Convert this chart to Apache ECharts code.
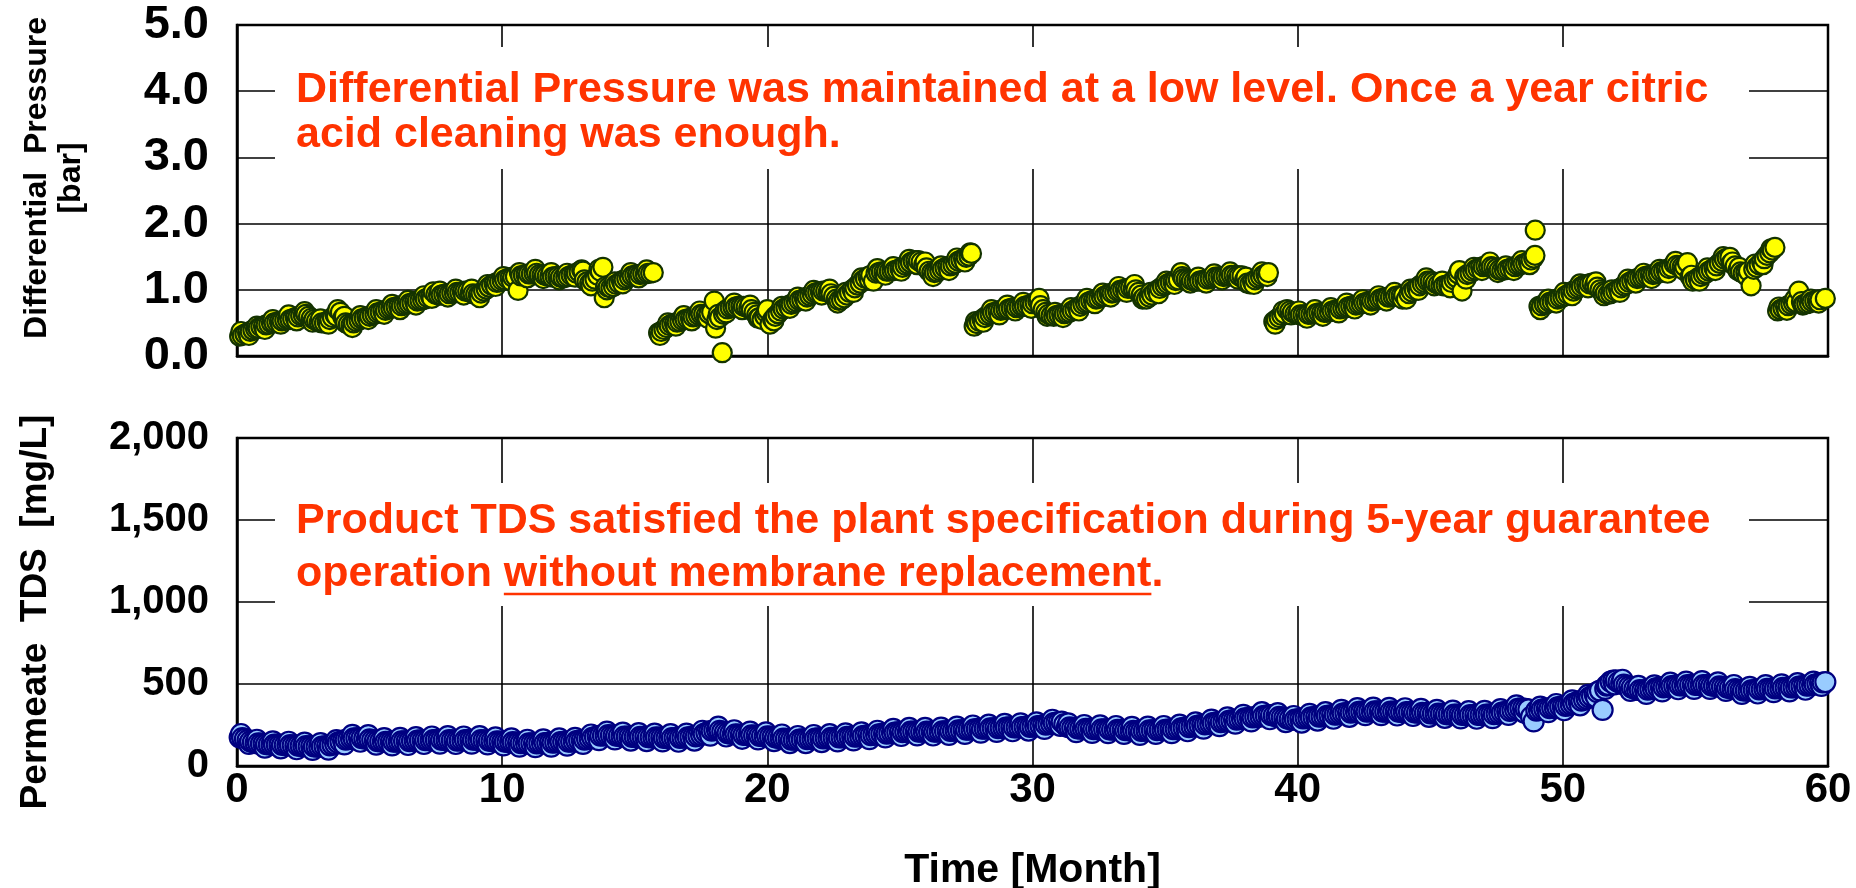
<!DOCTYPE html>
<html><head><meta charset="utf-8">
<script src="https://cdn.jsdelivr.net/npm/echarts@6/dist/echarts.min.js"></script>
<style>html,body{margin:0;padding:0;background:#fff;overflow:hidden}#c{width:1856px;height:888px}</style>
</head><body><div id="c"></div>
<script>
// ---- data ----
const xRange = [0, 60];
const xStep = 10;
const dpRange = [0, 5];
const dpStep = 1;
const tdsRange = [0, 2000];
const tdsStep = 500;

// Differential pressure [bar] vs time [month] - main trace readings
const dpData = [
[0.1,.30],[0.2,.31],[0.3,.33],[0.4,.35],[0.5,.37],[0.6,.39],[0.7,.41],[0.8,.42],[0.9,.44],[1.0,.45],
[1.1,.47],[1.2,.48],[1.3,.50],[1.4,.50],[1.5,.51],[1.6,.52],[1.7,.53],[1.8,.54],[1.9,.55],[2.0,.55],
[2.1,.56],[2.2,.58],[2.3,.59],[2.4,.61],[2.5,.62],[2.6,.63],[2.7,.60],[2.8,.57],[2.9,.55],[3.0,.53],
[3.1,.51],[3.2,.50],[3.3,.50],[3.4,.52],[3.5,.55],[3.6,.58],[3.7,.62],[3.8,.70],[3.9,.66],[4.0,.58],
[4.1,.50],[4.2,.48],[4.3,.47],[4.4,.50],[4.5,.52],[4.6,.54],[4.7,.56],[4.8,.57],[4.9,.59],[5.0,.60],
[5.1,.62],[5.2,.63],[5.3,.65],[5.4,.66],[5.5,.68],[5.6,.69],[5.7,.71],[5.8,.72],[5.9,.73],[6.0,.74],
[6.1,.75],[6.2,.76],[6.3,.77],[6.4,.78],[6.5,.79],[6.6,.80],[6.7,.82],[6.8,.83],[6.9,.84],[7.0,.85],
[7.1,.86],[7.2,.88],[7.3,.90],[7.4,.97],[7.5,.93],[7.6,.92],[7.7,.92],[7.8,.93],[7.9,.94],[8.0,.94],
[8.1,.95],[8.2,.95],[8.3,.96],[8.4,.96],[8.5,.97],[8.6,.98],[8.7,.98],[8.8,.96],[8.9,.94],[9.0,.93],
[9.1,.92],[9.2,.95],[9.3,.98],[9.4,1.01],[9.5,1.04],[9.6,1.07],[9.7,1.09],[9.8,1.11],[9.9,1.12],[10.0,1.14],
[10.1,1.15],[10.2,1.17],[10.3,1.18],[10.4,1.19],[10.5,1.20],[10.6,.99],[10.7,1.21],[10.8,1.22],[10.9,1.23],[11.0,1.24],
[11.1,1.24],[11.2,1.25],[11.3,1.25],[11.4,1.23],[11.5,1.22],[11.6,1.22],[11.7,1.21],[11.8,1.20],[11.9,1.19],[12.0,1.20],
[12.1,1.20],[12.2,1.19],[12.3,1.18],[12.4,1.19],[12.5,1.20],[12.6,1.22],[12.7,1.23],[12.8,1.25],[12.9,1.27],[13.0,1.30],
[13.1,1.15],[13.2,1.12],[13.3,1.10],[13.4,1.13],[13.5,1.16],[13.6,1.22],[13.7,1.28],[13.8,1.34],[13.85,.88],[13.9,1.05],
[14.0,1.04],[14.1,1.03],[14.2,1.05],[14.3,1.08],[14.4,1.10],[14.5,1.13],[14.6,1.15],[14.7,1.17],[14.8,1.19],[14.9,1.21],
[15.0,1.22],[15.1,1.23],[15.2,1.23],[15.3,1.24],[15.4,1.24],[15.5,1.25],[15.6,1.25],[15.7,1.26],
[15.9,.35],[16.0,.37],[16.1,.40],[16.2,.43],[16.3,.46],[16.4,.48],[16.5,.49],[16.6,.51],[16.7,.52],[16.8,.54],
[16.9,.55],[17.0,.56],[17.1,.57],[17.2,.59],[17.3,.60],[17.4,.62],[17.5,.63],[17.6,.63],[17.7,.62],[17.8,.64],
[17.9,.66],[18.0,.83],[18.05,.42],[18.1,.55],[18.2,.58],[18.3,.05],[18.35,.63],[18.4,.68],[18.5,.71],[18.6,.73],
[18.7,.74],[18.8,.74],[18.9,.75],[19.0,.75],[19.1,.75],[19.2,.74],[19.3,.72],[19.4,.70],[19.5,.66],[19.6,.62],
[19.7,.58],[19.8,.55],[19.9,.60],[20.0,.70],[20.1,.48],[20.2,.55],[20.3,.60],[20.4,.64],[20.5,.68],[20.6,.71],
[20.7,.73],[20.8,.76],[20.9,.78],[21.0,.80],[21.1,.82],[21.2,.84],[21.3,.85],[21.4,.87],[21.5,.89],[21.6,.91],
[21.7,.93],[21.8,.95],[21.9,.96],[22.0,.97],[22.1,.98],[22.2,.98],[22.3,.97],[22.4,.94],[22.5,.90],[22.6,.86],
[22.7,.84],[22.8,.85],[22.9,.88],[23.0,.92],[23.1,.96],[23.2,1.00],[23.3,1.03],[23.4,1.07],[23.5,1.10],[23.6,1.14],
[23.7,1.17],[23.8,1.20],[23.9,1.22],[24.0,1.13],[24.1,1.25],[24.2,1.26],[24.3,1.27],[24.4,1.27],[24.5,1.28],[24.6,1.28],
[24.7,1.29],[24.8,1.29],[24.9,1.30],[25.0,1.32],[25.1,1.34],[25.2,1.37],[25.3,1.39],[25.4,1.41],[25.5,1.43],[25.6,1.44],
[25.7,1.44],[25.8,1.42],[25.9,1.38],[26.0,1.33],[26.1,1.28],[26.2,1.26],[26.3,1.26],[26.4,1.27],[26.5,1.29],[26.6,1.31],
[26.7,1.33],[26.8,1.35],[26.9,1.36],[27.0,1.38],[27.1,1.40],[27.2,1.43],[27.3,1.45],[27.4,1.47],[27.5,1.49],[27.6,1.51],[27.7,1.55],
[27.8,.45],[27.9,.49],[28.0,.52],[28.1,.55],[28.2,.58],[28.3,.61],[28.4,.63],[28.5,.65],[28.6,.66],[28.7,.68],
[28.8,.69],[28.9,.70],[29.0,.71],[29.1,.71],[29.2,.72],[29.3,.73],[29.4,.73],[29.5,.74],[29.6,.75],[29.7,.75],
[29.8,.76],[29.9,.77],[30.0,.79],[30.1,.81],[30.2,.83],[30.3,.76],[30.4,.70],[30.5,.66],[30.6,.63],[30.7,.61],
[30.8,.60],[30.9,.61],[31.0,.62],[31.1,.63],[31.2,.64],[31.3,.65],[31.4,.66],[31.5,.68],[31.6,.70],[31.7,.73],
[31.8,.75],[31.9,.78],[32.0,.80],[32.1,.81],[32.2,.83],[32.3,.84],[32.4,.86],[32.5,.87],[32.6,.89],[32.7,.90],
[32.8,.92],[32.9,.94],[33.0,.95],[33.1,.96],[33.2,.98],[33.3,.99],[33.4,1.00],[33.5,1.01],[33.6,1.02],[33.7,1.03],
[33.8,1.02],[33.9,1.00],[34.0,.96],[34.1,.92],[34.2,.88],[34.3,.86],[34.4,.89],[34.5,.92],[34.6,.96],[34.7,.99],
[34.8,1.02],[34.9,1.05],[35.0,1.07],[35.1,1.09],[35.2,1.11],[35.3,1.12],[35.4,1.14],[35.5,1.15],[35.6,1.26],[35.7,1.17],
[35.8,1.16],[35.9,1.15],[36.0,1.14],[36.1,1.13],[36.2,1.13],[36.3,1.13],[36.4,1.14],[36.5,1.15],[36.6,1.16],[36.7,1.17],
[36.8,1.18],[36.9,1.19],[37.0,1.19],[37.1,1.20],[37.2,1.20],[37.3,1.21],[37.4,1.21],[37.5,1.22],[37.6,1.22],[37.7,1.21],
[37.8,1.21],[37.9,1.21],[38.0,1.15],[38.1,1.10],[38.2,1.09],[38.3,1.12],[38.4,1.15],[38.5,1.18],[38.6,1.20],[38.7,1.22],[38.8,1.24],[38.9,1.26],
[39.1,.52],[39.2,.55],[39.3,.58],[39.4,.61],[39.5,.64],[39.6,.70],[39.7,.68],[39.8,.66],[39.9,.64],[40.0,.63],
[40.1,.62],[40.2,.62],[40.3,.62],[40.4,.63],[40.5,.63],[40.6,.64],[40.7,.64],[40.8,.65],[40.9,.65],[41.0,.66],
[41.1,.66],[41.2,.67],[41.3,.68],[41.4,.69],[41.5,.70],[41.6,.71],[41.7,.72],[41.8,.73],[41.9,.74],[42.0,.75],
[42.1,.76],[42.2,.77],[42.3,.78],[42.4,.79],[42.5,.80],[42.6,.81],[42.7,.82],[42.8,.83],[42.9,.84],[43.0,.85],
[43.1,.86],[43.2,.87],[43.3,.88],[43.4,.89],[43.5,.89],[43.6,.90],[43.7,.90],[43.8,.91],[43.9,.91],[44.0,.92],
[44.1,.86],[44.2,.94],[44.3,.97],[44.4,1.00],[44.5,1.03],[44.6,1.06],[44.7,1.09],[44.8,1.11],[44.9,1.13],[45.0,1.13],
[45.1,1.12],[45.2,1.10],[45.3,1.08],[45.4,1.07],[45.5,1.06],[45.6,1.07],[45.7,1.08],[45.8,1.11],[45.9,1.15],[46.0,1.18],
[46.1,1.29],[46.2,.98],[46.3,1.20],[46.4,1.23],[46.5,1.25],[46.6,1.28],[46.7,1.30],[46.8,1.32],[46.9,1.34],[47.0,1.35],
[47.1,1.36],[47.2,1.36],[47.3,1.35],[47.4,1.34],[47.5,1.32],[47.6,1.30],[47.7,1.29],[47.8,1.30],[47.9,1.31],[48.0,1.32],
[48.1,1.34],[48.2,1.35],[48.3,1.37],[48.4,1.38],[48.5,1.39],[48.6,1.40],[48.7,1.42],[48.8,1.45],[48.9,1.48],[48.95,1.52],[48.96,1.90],
[49.1,.75],[49.2,.76],[49.3,.78],[49.4,.79],[49.5,.81],[49.6,.82],[49.7,.84],[49.8,.86],[49.9,.88],[50.0,.89],
[50.1,.91],[50.2,.93],[50.3,.96],[50.4,.98],[50.5,1.01],[50.6,1.03],[50.7,1.05],[50.8,1.07],[50.9,1.08],[51.0,1.09],
[51.1,1.10],[51.2,1.07],[51.3,1.04],[51.4,1.00],[51.5,.97],[51.6,.95],[51.7,.93],[51.8,.94],[51.9,.96],[52.0,.98],
[52.1,1.01],[52.2,1.03],[52.3,1.06],[52.4,1.08],[52.5,1.11],[52.6,1.13],[52.7,1.15],[52.8,1.17],[52.9,1.18],[53.0,1.19],
[53.1,1.20],[53.2,1.21],[53.3,1.22],[53.4,1.23],[53.5,1.24],[53.6,1.25],[53.7,1.27],[53.8,1.28],[53.9,1.30],[54.0,1.32],
[54.1,1.34],[54.2,1.39],[54.3,1.37],[54.4,1.36],[54.5,1.35],[54.6,1.35],[54.7,1.41],[54.8,1.20],[54.9,1.13],[55.0,1.15],
[55.1,1.18],[55.2,1.20],[55.3,1.23],[55.4,1.25],[55.5,1.28],[55.6,1.30],[55.7,1.33],[55.8,1.36],[55.9,1.40],[56.0,1.43],
[56.1,1.46],[56.2,1.48],[56.3,1.49],[56.4,1.42],[56.5,1.36],[56.6,1.29],[56.7,1.27],[56.8,1.25],[56.9,1.26],[57.0,1.28],
[57.1,1.06],[57.2,1.31],[57.3,1.34],[57.4,1.38],[57.5,1.42],[57.6,1.47],[57.7,1.52],[57.8,1.56],[57.9,1.60],[58.0,1.64],
[58.1,.68],[58.2,.70],[58.3,.72],[58.4,.74],[58.5,.76],[58.6,.78],[58.7,.80],[58.8,.81],[58.9,.98],[59.0,.82],
[59.1,.78],[59.2,.79],[59.3,.80],[59.4,.82],[59.5,.83],[59.6,.84],[59.7,.85],[59.9,.87]
];

// Differential pressure - scattered readings around the main trace
const dpScatter = [
[0.15,.37],[0.45,.31],[0.75,.45],[1.05,.40],[1.35,.55],[1.65,.48],[1.95,.62],[2.25,.53],[2.55,.67],[2.85,.51],
[3.15,.56],[3.45,.48],[3.75,.60],[4.05,.60],[4.35,.43],[4.65,.61],[4.95,.55],[5.25,.70],[5.55,.63],[5.85,.78],
[6.15,.70],[6.45,.84],[6.75,.77],[7.05,.91],[7.35,.87],[7.65,.98],[7.95,.89],[8.25,1.01],[8.55,.92],[8.85,1.01],
[9.15,.88],[9.45,1.08],[9.75,1.05],[10.05,1.20],[10.35,1.13],[10.65,1.26],[10.95,1.18],[11.25,1.31],[11.55,1.17],[11.85,1.26],
[12.15,1.15],[12.45,1.25],[12.75,1.19],[13.05,1.28],[13.35,1.06],[13.65,1.31],[13.95,1.00],[14.25,1.12],[14.55,1.09],[14.85,1.26],
[15.15,1.18],[15.45,1.30],
[15.95,.31],[16.25,.50],[16.55,.45],[16.85,.61],[17.15,.53],[17.45,.68],[17.75,.57],[18.15,.63],[18.45,.65],[18.75,.80],
[19.05,.70],[19.35,.77],[19.65,.57],[19.95,.66],[20.25,.53],[20.55,.75],[20.85,.72],[21.15,.89],[21.45,.83],[21.75,.99],
[22.05,.92],[22.35,1.01],[22.65,.80],[22.95,.96],[23.25,.96],[23.55,1.18],[23.85,1.15],[24.15,1.32],[24.45,1.22],[24.75,1.35],
[25.05,1.28],[25.35,1.46],[25.65,1.38],[25.95,1.42],[26.25,1.20],[26.55,1.36],[26.85,1.29],[27.15,1.48],[27.45,1.42],[27.65,1.56],
[27.85,.52],[28.15,.51],[28.45,.70],[28.75,.62],[29.05,.77],[29.35,.68],[29.65,.81],[29.95,.72],[30.25,.87],[30.55,.60],
[30.85,.66],[31.15,.58],[31.45,.73],[31.75,.68],[32.05,.87],[32.35,.79],[32.65,.95],[32.95,.89],[33.25,1.05],[33.55,.96],
[33.85,1.08],[34.15,.86],[34.45,.96],[34.75,.94],[35.05,1.13],[35.35,1.08],[35.65,1.20],[35.95,1.10],[36.25,1.19],[36.55,1.10],
[36.85,1.24],[37.15,1.15],[37.45,1.27],[37.75,1.16],[38.05,1.19],[38.35,1.08],[38.65,1.27],[38.85,1.20],
[39.15,.48],[39.45,.68],[39.75,.62],[40.05,.68],[40.35,.57],[40.65,.70],[40.95,.60],[41.25,.73],[41.55,.65],[41.85,.80],
[42.15,.71],[42.45,.85],[42.75,.77],[43.05,.91],[43.35,.83],[43.65,.96],[43.95,.86],[44.25,1.01],[44.55,.99],[44.85,1.18],
[45.15,1.06],[45.45,1.13],[45.75,1.03],[46.05,1.24],[46.35,1.16],[46.65,1.34],[46.95,1.29],[47.25,1.42],[47.55,1.26],[47.85,1.36],
[48.15,1.29],[48.45,1.44],[48.75,1.38],
[49.15,.70],[49.45,.86],[49.75,.80],[50.05,.96],[50.35,.91],[50.65,1.09],[50.95,1.03],[51.25,1.12],[51.55,.91],[51.85,1.00],
[52.15,.96],[52.45,1.16],[52.75,1.10],[53.05,1.25],[53.35,1.17],[53.65,1.31],[53.95,1.25],[54.25,1.43],[54.55,1.30],[54.85,1.22],
[55.15,1.13],[55.45,1.33],[55.75,1.29],[56.05,1.50],[56.35,1.40],[56.65,1.34],[56.95,1.20],[57.25,1.39],[57.55,1.38],[57.85,1.62],
[58.15,.74],[58.45,.69],[58.75,.86],[59.05,.77],[59.35,.86],[59.65,.80]
];

// Permeate TDS [mg/L] vs time [month] - main trace readings
const tdsData = [
[0.1,175],[0.2,170],[0.3,165],[0.4,158],[0.5,150],[0.6,145],[0.7,140],[0.8,138],[0.9,136],[1.0,135],
[1.1,133],[1.2,131],[1.3,130],[1.4,130],[1.5,130],[1.6,130],[1.7,129],[1.8,128],[1.9,128],[2.0,127],
[2.1,126],[2.2,125],[2.3,124],[2.4,123],[2.5,122],[2.6,121],[2.7,120],[2.8,120],[2.9,119],[3.0,118],
[3.1,118],[3.2,119],[3.3,120],[3.4,122],[3.5,126],[3.6,130],[3.7,135],[3.8,142],[3.9,148],[4.0,154],
[4.1,160],[4.2,163],[4.3,166],[4.4,168],[4.5,169],[4.6,170],[4.7,170],[4.8,168],[4.9,165],[5.0,162],
[5.1,158],[5.2,155],[5.3,152],[5.4,150],[5.5,149],[5.6,148],[5.7,148],[5.8,148],[5.9,148],[6.0,149],
[6.1,149],[6.2,150],[6.3,151],[6.4,151],[6.5,152],[6.6,153],[6.7,154],[6.8,155],[6.9,156],[7.0,157],
[7.1,158],[7.2,158],[7.3,158],[7.4,158],[7.5,159],[7.6,159],[7.7,160],[7.8,159],[7.9,159],[8.0,158],
[8.1,157],[8.2,156],[8.3,155],[8.4,156],[8.5,157],[8.6,158],[8.7,159],[8.8,160],[8.9,160],[9.0,160],
[9.1,159],[9.2,158],[9.3,157],[9.4,156],[9.5,155],[9.6,153],[9.7,152],[9.8,150],[9.9,149],[10.0,148],
[10.1,148],[10.2,147],[10.3,146],[10.4,145],[10.5,143],[10.6,142],[10.7,140],[10.8,139],[10.9,139],[11.0,138],
[11.1,138],[11.2,138],[11.3,138],[11.4,139],[11.5,139],[11.6,140],[11.7,141],[11.8,142],[11.9,143],[12.0,144],
[12.1,145],[12.2,146],[12.3,147],[12.4,147],[12.5,148],[12.6,149],[12.7,150],[12.8,152],[12.9,155],[13.0,157],
[13.1,160],[13.2,164],[13.3,168],[13.4,172],[13.5,176],[13.6,181],[13.7,185],[13.8,186],[13.9,187],[14.0,188],
[14.1,187],[14.2,186],[14.3,185],[14.4,183],[14.5,182],[14.6,180],[14.7,179],[14.8,179],[14.9,178],[15.0,178],
[15.1,178],[15.2,178],[15.3,177],[15.4,177],[15.5,176],[15.6,175],[15.7,175],[15.8,174],[15.9,173],[16.0,173],
[16.1,172],[16.2,171],[16.3,171],[16.4,170],[16.5,170],[16.6,171],[16.7,172],[16.8,173],[16.9,174],[17.0,175],
[17.1,176],[17.2,178],[17.3,180],[17.4,185],[17.5,190],[17.6,195],[17.7,202],[17.8,209],[17.9,215],[18.0,218],
[18.1,220],[18.2,215],[18.3,210],[18.4,205],[18.5,201],[18.6,198],[18.7,195],[18.8,193],[18.9,191],[19.0,190],
[19.1,189],[19.2,189],[19.3,188],[19.4,187],[19.5,186],[19.6,185],[19.7,184],[19.8,183],[19.9,182],[20.0,181],
[20.1,179],[20.2,177],[20.3,174],[20.4,172],[20.5,170],[20.6,167],[20.7,165],[20.8,163],[20.9,161],[21.0,160],
[21.1,160],[21.2,161],[21.3,162],[21.4,163],[21.5,164],[21.6,165],[21.7,166],[21.8,167],[21.9,168],[22.0,169],
[22.1,169],[22.2,170],[22.3,171],[22.4,171],[22.5,172],[22.6,173],[22.7,174],[22.8,175],[22.9,176],[23.0,177],
[23.1,178],[23.2,179],[23.3,179],[23.4,180],[23.5,182],[23.6,183],[23.7,185],[23.8,187],[23.9,188],[24.0,190],
[24.1,192],[24.2,193],[24.3,195],[24.4,197],[24.5,198],[24.6,200],[24.7,202],[24.8,203],[24.9,205],[25.0,206],
[25.1,207],[25.2,208],[25.3,209],[25.4,209],[25.5,210],[25.6,210],[25.7,210],[25.8,210],[25.9,209],[26.0,209],
[26.1,208],[26.2,209],[26.3,209],[26.4,210],[26.5,211],[26.6,211],[26.7,212],[26.8,213],[26.9,214],[27.0,215],
[27.1,216],[27.2,217],[27.3,218],[27.4,219],[27.5,221],[27.6,222],[27.7,223],[27.8,224],[27.9,225],[28.0,226],
[28.1,227],[28.2,228],[28.3,229],[28.4,229],[28.5,230],[28.6,231],[28.7,231],[28.8,232],[28.9,233],[29.0,234],
[29.1,235],[29.2,235],[29.3,236],[29.4,236],[29.5,237],[29.6,237],[29.7,238],[29.8,239],[29.9,239],[30.0,240],
[30.1,242],[30.2,243],[30.3,245],[30.4,248],[30.5,252],[30.6,255],[30.7,258],[30.8,262],[30.9,265],[31.0,268],
[31.1,270],[31.2,255],[31.3,240],[31.4,236],[31.5,232],[31.6,231],[31.7,229],[31.8,228],[31.9,227],[32.0,227],
[32.1,226],[32.2,226],[32.3,225],[32.4,225],[32.5,225],[32.6,224],[32.7,224],[32.8,223],[32.9,223],[33.0,222],
[33.1,221],[33.2,221],[33.3,220],[33.4,219],[33.5,218],[33.6,218],[33.7,216],[33.8,214],[33.9,212],[34.0,213],
[34.1,214],[34.2,215],[34.3,216],[34.4,217],[34.5,218],[34.6,219],[34.7,219],[34.8,220],[34.9,221],[35.0,221],
[35.1,222],[35.2,223],[35.3,224],[35.4,225],[35.5,227],[35.6,230],[35.7,232],[35.8,235],[35.9,237],[36.0,240],
[36.1,243],[36.2,245],[36.3,248],[36.4,251],[36.5,253],[36.6,256],[36.7,259],[36.8,261],[36.9,264],[37.0,266],
[37.1,268],[37.2,270],[37.3,273],[37.4,275],[37.5,278],[37.6,280],[37.7,283],[37.8,285],[37.9,287],[38.0,290],
[38.1,292],[38.2,294],[38.3,296],[38.4,298],[38.5,300],[38.6,303],[38.7,305],[38.8,307],[38.9,309],[39.0,310],
[39.1,307],[39.2,303],[39.3,300],[39.4,297],[39.5,293],[39.6,290],[39.7,286],[39.8,282],[39.9,283],[40.0,285],
[40.1,287],[40.2,290],[40.3,292],[40.4,294],[40.5,296],[40.6,298],[40.7,299],[40.8,301],[40.9,302],[41.0,304],
[41.1,306],[41.2,308],[41.3,310],[41.4,313],[41.5,315],[41.6,317],[41.7,320],[41.8,322],[41.9,324],[42.0,326],
[42.1,328],[42.2,329],[42.3,330],[42.4,331],[42.5,332],[42.6,332],[42.7,333],[42.8,333],[42.9,333],[43.0,333],
[43.1,333],[43.2,332],[43.3,332],[43.4,332],[43.5,332],[43.6,332],[43.7,331],[43.8,331],[43.9,330],[44.0,329],
[44.1,329],[44.2,328],[44.3,327],[44.4,327],[44.5,326],[44.6,325],[44.7,324],[44.8,323],[44.9,322],[45.0,321],
[45.1,320],[45.2,319],[45.3,319],[45.4,318],[45.5,317],[45.6,316],[45.7,315],[45.8,314],[45.9,314],[46.0,313],
[46.1,312],[46.2,312],[46.3,311],[46.4,311],[46.5,310],[46.6,310],[46.7,310],[46.8,311],[46.9,311],[47.0,312],
[47.1,313],[47.2,313],[47.3,315],[47.4,316],[47.5,318],[47.6,321],[47.7,325],[47.8,328],[47.9,332],[48.0,336],
[48.1,340],[48.2,344],[48.3,348],[48.4,352],[48.5,350],[48.6,348],[48.7,345],[48.8,300],[48.9,272],[49.0,338],
[49.1,340],[49.2,344],[49.3,347],[49.4,350],[49.5,352],[49.6,354],[49.7,355],[49.8,357],[49.9,360],[50.0,362],
[50.1,366],[50.2,370],[50.3,375],[50.4,380],[50.5,386],[50.6,392],[50.7,398],[50.8,404],[50.9,410],[51.0,418],
[51.1,425],[51.2,438],[51.3,450],[51.4,460],[51.5,342],[51.6,470],[51.7,495],[51.8,515],[51.9,520],[52.0,522],
[52.1,512],[52.2,505],[52.3,497],[52.4,490],[52.5,484],[52.6,478],[52.7,471],[52.8,465],[52.9,463],[53.0,462],
[53.1,462],[53.2,465],[53.3,468],[53.4,470],[53.5,473],[53.6,476],[53.7,478],[53.8,480],[53.9,483],[54.0,485],
[54.1,487],[54.2,488],[54.3,490],[54.4,491],[54.5,491],[54.6,492],[54.7,493],[54.8,493],[54.9,494],[55.0,494],
[55.1,495],[55.2,495],[55.3,494],[55.4,493],[55.5,492],[55.6,491],[55.7,489],[55.8,488],[55.9,485],[56.0,483],
[56.1,480],[56.2,477],[56.3,475],[56.4,472],[56.5,469],[56.6,465],[56.7,462],[56.8,461],[56.9,460],[57.0,460],
[57.1,462],[57.2,463],[57.3,465],[57.4,467],[57.5,468],[57.6,470],[57.7,471],[57.8,471],[57.9,472],[58.0,473],
[58.1,474],[58.2,475],[58.3,476],[58.4,477],[58.5,478],[58.6,479],[58.7,480],[58.8,482],[58.9,484],[59.0,486],
[59.1,488],[59.2,490],[59.3,492],[59.4,494],[59.5,497],[59.6,500],[59.7,505],[59.8,509],[59.9,512]
];

// Permeate TDS - scattered readings around the main trace
const tdsScatter = [
[0.15,195],[0.45,135],[0.75,160],[1.05,112],[1.35,150],[1.65,108],[1.95,148],[2.25,102],[2.55,142],[2.85,98],
[3.15,140],[3.45,100],[3.75,158],[4.05,132],[4.35,190],[4.65,148],[4.95,188],[5.25,130],[5.55,170],[5.85,126],
[6.15,172],[6.45,128],[6.75,176],[7.05,134],[7.35,180],[7.65,136],[7.95,182],[8.25,134],[8.55,180],[8.85,136],
[9.15,182],[9.45,132],[9.75,174],[10.05,126],[10.35,168],[10.65,118],[10.95,160],[11.25,115],[11.55,162],[11.85,118],
[12.15,168],[12.45,124],[12.75,172],[13.05,135],[13.35,192],[13.65,158],[13.95,210],[14.25,162],[14.55,204],[14.85,155],
[15.15,200],[15.45,152],[15.75,198],[16.05,150],[16.35,194],[16.65,148],[16.95,198],[17.25,155],[17.55,215],[17.85,185],
[18.15,240],[18.45,180],[18.75,218],[19.05,166],[19.35,210],[19.65,162],[19.95,205],[20.25,152],[20.55,192],[20.85,140],
[21.15,183],[21.45,140],[21.75,189],[22.05,146],[22.35,194],[22.65,150],[22.95,199],[23.25,156],[23.55,205],[23.85,164],
[24.15,215],[24.45,174],[24.75,226],[25.05,183],[25.35,232],[25.65,187],[25.95,232],[26.25,186],[26.55,234],[26.85,190],
[27.15,240],[27.45,196],[27.75,247],[28.05,203],[28.35,252],[28.65,208],[28.95,257],[29.25,212],[29.55,260],[29.85,216],
[30.15,266],[30.45,226],[30.75,282],[31.05,245],[31.35,260],[31.65,206],[31.95,250],[32.25,202],[32.55,248],[32.85,200],
[33.15,244],[33.45,196],[33.75,238],[34.05,190],[34.35,240],[34.65,196],[34.95,244],[35.25,200],[35.55,252],[35.85,212],
[36.15,266],[36.45,228],[36.75,283],[37.05,243],[37.35,297],[37.65,258],[37.95,312],[38.25,272],[38.65,328],[38.95,285],
[39.25,322],[39.55,268],[39.85,305],[40.15,265],[40.45,318],[40.75,277],[41.05,328],[41.35,288],[41.65,342],[41.95,300],
[42.25,353],[42.55,310],[42.85,356],[43.15,310],[43.45,355],[43.75,308],[44.05,352],[44.35,305],[44.65,348],[44.95,300],
[45.25,342],[45.55,294],[45.85,338],[46.15,290],[46.45,334],[46.75,288],[47.05,336],[47.35,292],[47.65,347],[47.95,312],
[48.25,370],[48.55,326],[49.15,362],[49.45,328],[49.75,378],[50.05,340],[50.35,400],[50.65,370],[50.95,434],[51.25,420],
[51.65,490],[51.95,498],[52.25,526],[52.55,458],[52.85,488],[53.15,440],[53.45,492],[53.75,455],[54.05,508],[54.35,468],
[54.65,515],[54.95,470],[55.25,518],[55.55,470],[55.85,510],[56.15,458],[56.45,494],[56.75,440],[57.05,483],[57.35,442],
[57.65,493],[57.95,450],[58.25,498],[58.55,455],[58.85,505],[59.15,465],[59.45,515],[59.75,488]
];

const dpNoteLines = ['Differential Pressure was maintained at a low level. Once a year citric', 'acid cleaning was enough.'];
const tdsNoteLine1 = 'Product TDS satisfied the plant specification during 5-year guarantee';
const tdsNoteLine2 = ['operation ', 'without membrane replacement', '.'];
const dpTitle = 'Differential  Pressure\n[bar]';
const tdsTitle = 'Permeate  TDS  [mg/L]';
const xTitle = 'Time [Month]';

// ---- chart ----
const byTime = (a, b) => a[0] - b[0];
const dpAll = dpData.concat(dpScatter).sort(byTime);
const tdsAll = tdsData.concat(tdsScatter).sort(byTime);

const FONT = '"Liberation Sans", Arial, Helvetica, sans-serif';
const RED = '#FF3300';
const GL = 237, GR = 28;
const G1T = 25, G1H = 331, G2T = 438, G2H = 328;
const noteFont = 'bold 43px ' + FONT;
const noteX = 296;

const mctx = document.createElement('canvas').getContext('2d');
mctx.font = noteFont;
const wA = mctx.measureText(tdsNoteLine2[0]).width;
const wB = mctx.measureText(tdsNoteLine2[1]).width;

const lbl = (size) => ({color: '#000', fontFamily: FONT, fontWeight: 'bold', fontSize: size});
const fmtComma = v => v.toLocaleString('en-US');
const blackLine = {color: '#000', width: 1.6};
const gridBase = {left: GL, right: GR, show: true, borderColor: '#000', borderWidth: 2.5,
                  backgroundColor: 'transparent', containLabel: false, outerBoundsMode: 'none'};

const chart = echarts.init(document.getElementById('c'), null, {renderer: 'canvas'});
chart.setOption({
  animation: false,
  backgroundColor: '#fff',
  grid: [
    Object.assign({top: G1T, height: G1H}, gridBase),
    Object.assign({top: G2T, height: G2H}, gridBase)
  ],
  xAxis: [
    {type: 'value', gridIndex: 0, min: xRange[0], max: xRange[1], interval: xStep,
     axisLine: {show: true, onZero: false, lineStyle: {color: '#000', width: 2.5}}, axisTick: {show: false},
     axisLabel: {show: false}, splitLine: {show: true, lineStyle: blackLine}},
    {type: 'value', gridIndex: 1, min: xRange[0], max: xRange[1], interval: xStep,
     name: xTitle, nameLocation: 'middle', nameGap: 84,
     nameTextStyle: {color: '#000', fontFamily: FONT, fontWeight: 'bold', fontSize: 41},
     axisLine: {show: true, onZero: false, lineStyle: {color: '#000', width: 2.5}}, axisTick: {show: false},
     axisLabel: Object.assign({margin: 3}, lbl(42)), splitLine: {show: true, lineStyle: blackLine}}
  ],
  yAxis: [
    {type: 'value', gridIndex: 0, min: dpRange[0], max: dpRange[1], interval: dpStep,
     axisLine: {show: true, onZero: false, lineStyle: {color: '#000', width: 2.5}}, axisTick: {show: false},
     axisLabel: Object.assign({margin: 28, formatter: v => v.toFixed(1)}, lbl(47)),
     splitLine: {show: true, lineStyle: blackLine}},
    {type: 'value', gridIndex: 1, min: tdsRange[0], max: tdsRange[1], interval: tdsStep,
     axisLine: {show: true, onZero: false, lineStyle: {color: '#000', width: 2.5}}, axisTick: {show: false},
     axisLabel: Object.assign({margin: 28, formatter: fmtComma}, lbl(40)),
     splitLine: {show: true, lineStyle: blackLine}}
  ],
  series: [
    {type: 'scatter', xAxisIndex: 0, yAxisIndex: 0, data: dpAll, symbol: 'circle', symbolSize: 19, clip: false,
     itemStyle: {color: '#FFFF00', borderColor: '#143300', borderWidth: 2.2, opacity: 1}, z: 5},
    {type: 'scatter', xAxisIndex: 1, yAxisIndex: 1, data: tdsAll, symbol: 'circle', symbolSize: 20, clip: false,
     itemStyle: {color: '#99CCFF', borderColor: '#000080', borderWidth: 2.2, opacity: 1}, z: 5}
  ],
  graphic: [
    {type: 'rect', z: 10, shape: {x: 275, y: 47, width: 1474, height: 122}, style: {fill: '#fff'}},
    {type: 'rect', z: 10, shape: {x: 275, y: 483, width: 1474, height: 123}, style: {fill: '#fff'}},
    {type: 'text', z: 11, x: noteX, y: 90, style: {text: dpNoteLines[0], font: noteFont, fill: RED, verticalAlign: 'middle'}},
    {type: 'text', z: 11, x: noteX, y: 135, style: {text: dpNoteLines[1], font: noteFont, fill: RED, verticalAlign: 'middle'}},
    {type: 'text', z: 11, x: noteX, y: 521, style: {text: tdsNoteLine1, font: noteFont, fill: RED, verticalAlign: 'middle'}},
    {type: 'text', z: 11, x: noteX, y: 574, style: {text: tdsNoteLine2.join(''), font: noteFont, fill: RED, verticalAlign: 'middle'}},
    {type: 'line', z: 11, shape: {x1: noteX + wA, y1: 594, x2: noteX + wA + wB, y2: 594}, style: {stroke: RED, lineWidth: 2.5}},
    {type: 'text', z: 11, x: 54, y: 178, rotation: Math.PI / 2,
     style: {text: dpTitle, font: 'bold 32px ' + FONT, lineHeight: 34, fill: '#000', align: 'center', verticalAlign: 'middle'}},
    {type: 'text', z: 11, x: 36, y: 612, rotation: Math.PI / 2,
     style: {text: tdsTitle, font: 'bold 37px ' + FONT, fill: '#000', align: 'center', verticalAlign: 'middle'}}
  ]
});
</script></body></html>
